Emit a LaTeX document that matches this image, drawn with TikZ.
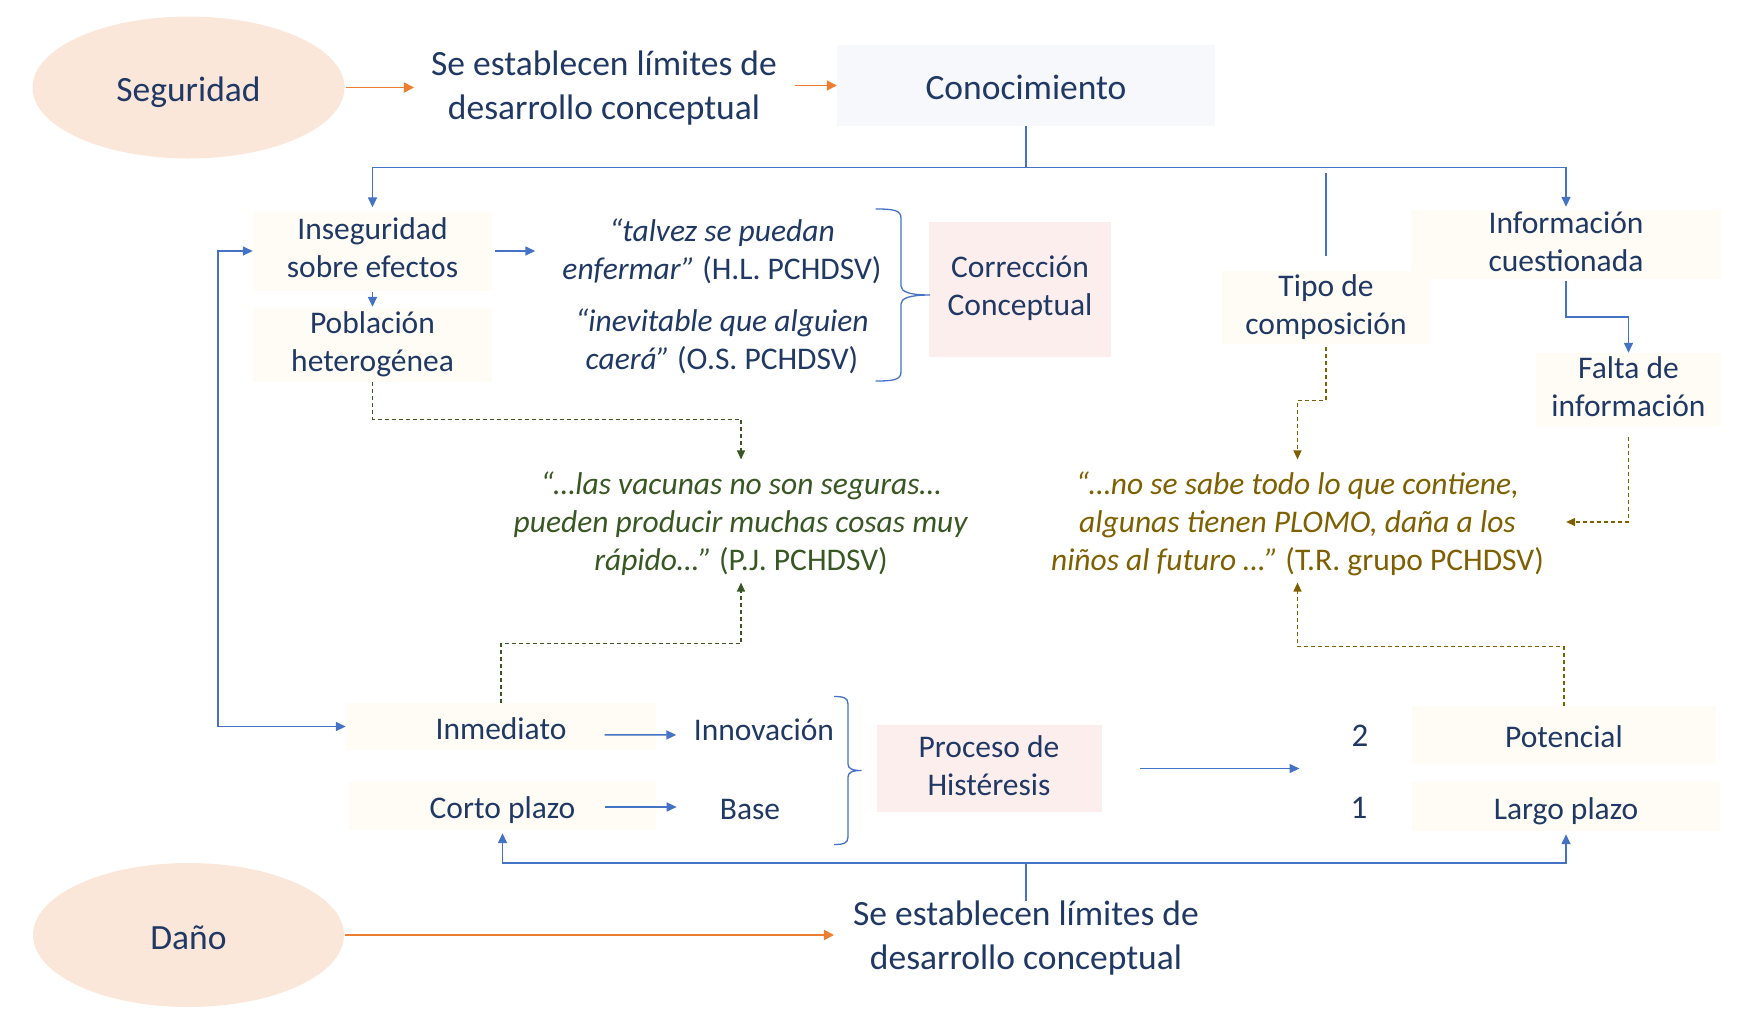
\documentclass[tikz,border=0pt]{standalone}
\usepackage{fontspec}
\setmainfont{Carlito}
\usetikzlibrary{arrows.meta,shapes.geometric,calc}
\definecolor{navy}{HTML}{203864}
\definecolor{cblue}{HTML}{4472C4}
\definecolor{corange}{HTML}{ED7D31}
\definecolor{peach}{HTML}{FBE7D9}
\definecolor{paleblue}{HTML}{F6F8FC}
\definecolor{cream}{HTML}{FEFCF4}
\definecolor{palepink}{HTML}{FDEEEE}
\definecolor{qgreen}{HTML}{385723}
\definecolor{qbrown}{HTML}{7F6000}
\newcommand\mystrut{\vrule width 0pt height 0.84\baselineskip depth 0.16\baselineskip\relax}
\begin{document}
\begin{tikzpicture}[x=1pt,y=-1pt,
  every node/.style={text=navy, inner sep=0pt, align=center,
    execute at begin node=\mystrut, execute at end node=\mystrut},
  big/.style={font=\fontsize{35.5}{42}\selectfont},
  bigtwo/.style={font=\fontsize{35.5}{44}\selectfont},
  small/.style={font=\fontsize{31.5}{38}\selectfont},
  digit/.style={font=\fontsize{33}{40}\selectfont},
  oval/.style={ellipse, fill=peach, big},
  creambox/.style={rectangle, fill=cream, small},
  pinkbox/.style={rectangle, fill=palepink, small},
  barrow/.style={draw=cblue, line width=1.5pt, -{Triangle[length=10pt,width=9pt]}},
  bline/.style={draw=cblue, line width=1.5pt},
  bbrace/.style={draw=cblue, line width=1.3pt},
  oarrow/.style={draw=corange, line width=1.8pt, -{Triangle[length=10pt,width=10pt]}},
  gdash/.style={draw=qgreen, line width=1.2pt, dash pattern=on 4pt off 3pt, -{Triangle[length=9pt,width=8pt]}},
  bdash/.style={draw=qbrown, line width=1.2pt, dash pattern=on 4pt off 3pt, -{Triangle[length=9pt,width=8pt]}},
]
\useasboundingbox (0,0) rectangle (1743,1021);

% top row
\node[oval, minimum width=312pt, minimum height=142pt] (seg) at (188.5,87.5) {Seguridad};
\node[bigtwo] (lim1) at (604,89) {Se establecen límites de\\desarrollo conceptual};
\node[big, fill=paleblue, minimum width=378pt, minimum height=81pt] (con) at (1026,85.5) {Conocimiento};

% left upper
\node[creambox, minimum width=239pt, minimum height=79pt] (inseg) at (372.5,251) {Inseguridad\\sobre efectos};
\node[creambox, minimum width=239pt, minimum height=74pt] (pob) at (372.5,345) {Población\\heterogénea};
\node[small] (q1) at (722,252) {\textit{“talvez se puedan}\\\textit{enfermar”} (H.L. PCHDSV)};
\node[small] (q2) at (722,342.5) {\textit{“inevitable que alguien}\\\textit{caerá”} (O.S. PCHDSV)};
\node[pinkbox, minimum width=182pt, minimum height=135pt] (corr) at (1020,289) {Corrección\\Conceptual};

% right upper
\node[creambox, minimum width=310pt, minimum height=69pt] (info) at (1566,244.5) {Información\\cuestionada};
\node[creambox, minimum width=208pt, minimum height=73pt] (tipo) at (1326,307.5) {Tipo de\\composición};
\node[creambox, minimum width=185pt, minimum height=73pt] (falta) at (1628.5,389.5) {Falta de\\información};

% quotes
\node[small, text=qgreen] (qg) at (741,524) {\textit{“…las vacunas no son seguras…}\\\textit{pueden producir muchas cosas muy}\\\textit{rápido…”} (P.J. PCHDSV)};
\node[small, text=qbrown] (qb) at (1297.5,524) {\textit{“…no se sabe todo lo que contiene,}\\\textit{algunas tienen PLOMO, daña a los}\\\textit{niños al futuro …”} (T.R. grupo PCHDSV)};

% lower
\node[creambox, minimum width=310pt, minimum height=47pt] (inm) at (501,726.5) {Inmediato};
\node[small] (innov) at (764,728) {Innovación};
\node[creambox, minimum width=307pt, minimum height=48pt] (corto) at (502.5,806) {Corto plazo};
\node[small] (base) at (750,807) {Base};
\node[pinkbox, minimum width=225pt, minimum height=87pt] (hist) at (989,768.5) {Proceso de\\Histéresis};
\node[digit] (two) at (1360,733) {2};
\node[digit] (one) at (1359,805) {1};
\node[creambox, minimum width=304pt, minimum height=58pt] (pot) at (1564,735) {Potencial};
\node[creambox, minimum width=308pt, minimum height=49pt] (largo) at (1566,806.5) {Largo plazo};

% bottom row
\node[oval, minimum width=311pt, minimum height=144pt] (dano) at (188.5,935) {Daño};
\node[bigtwo] (lim2) at (1026,939) {Se establecen límites de\\desarrollo conceptual};

% orange arrows
\draw[oarrow, shorten <=1pt, shorten >=17pt] (seg.east) -- (seg.east -| lim1.west);
\draw[oarrow, shorten <=18pt] (lim1.east |- con.west) -- (con.west);
\draw[oarrow, shorten <=1pt, shorten >=19pt] (dano.east) -- (dano.east -| lim2.west);

% top distribution
\coordinate (hub) at (1026,167.5);
\draw[bline] (con.south) -- (hub);
\draw[barrow, shorten >=4pt] (hub) -| (inseg.north);
\draw[barrow, shorten >=3pt] (hub) -| (info.north);
\draw[bline] (tipo.north) ++(0,-15) -- ++(0,-83);

\draw[barrow, shorten <=1pt, shorten >=1pt] (inseg.south) -- (pob.north);
\draw[barrow, shorten <=3pt, shorten >=27pt] (inseg.east) -- (inseg.east -| q1.west);
\draw[cblue, line width=1.5pt, {Triangle[length=10pt,width=9pt]}-{Triangle[length=10pt,width=9pt]}]
  (inseg.west) -- ++(-35,0) |- (inm.west);
\draw[barrow, shorten <=2pt] (info.south) -- ++(0,38) -| (falta.north);

% braces
\draw[bbrace] (875.6,209) .. controls (893,209) and (901,210) .. (901,218) -- (901,286)
  .. controls (901,292) and (910,295) .. (930,295)
  .. controls (910,295) and (901,298) .. (901,304) -- (901,372)
  .. controls (901,380) and (893,381) .. (875.6,381);
\draw[bbrace] (834,696.5) .. controls (844,696.5) and (848,698) .. (848,704) -- (848,764)
  .. controls (848,768.5) and (852,770.5) .. (861.5,770.5)
  .. controls (852,770.5) and (848,772.5) .. (848,777) -- (848,837)
  .. controls (848,843) and (844,844.5) .. (834,844.5);

% dashed links
\draw[gdash] (pob.south) -- ++(0,37) -| ($(qg.north)+(0,-12)$);
\draw[gdash] (inm.north) -- ++(0,-59) -| ($(qg.south)+(0,6)$);
\draw[bdash, shorten <=3pt] (tipo.south) -- ++(0,56) -| ($(qb.north)+(0,-12)$);
\draw[bdash, shorten <=11pt] (falta.south) |- ($(qb.east)+(22,-2)$);
\draw[bdash] (pot.north) -- ++(0,-59) -| ($(qb.south)+(0,6)$);

% lower arrows
\draw[barrow, shorten <=103.7pt, shorten >=17.5pt] ([yshift=-8pt]inm.center) -- ([yshift=-7pt]innov.west);
\draw[barrow, shorten <=102.2pt, shorten >=43pt] ([yshift=-1pt]corto.center) -- (base.west);
\coordinate (h21) at (1299.5,768.5);
\draw[barrow, shorten <=38pt] (hist.east) -- (h21);

% bottom distribution
\coordinate (bhub) at (1026,863);
\draw[bline] (lim2.north) -- (bhub);
\draw[barrow, shorten >=3pt] (bhub) -| (corto.south);
\draw[barrow, shorten >=3pt] (bhub) -| (largo.south);
\end{tikzpicture}
\end{document}
